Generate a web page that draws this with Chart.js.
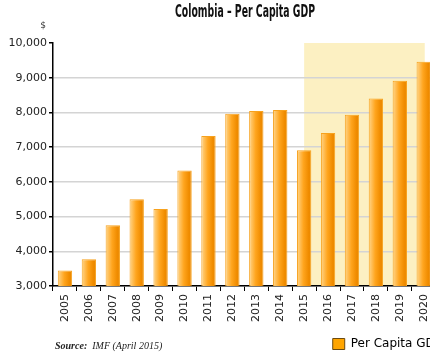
<!DOCTYPE html>
<html>
<head>
<meta charset="utf-8">
<script src="https://cdn.jsdelivr.net/npm/chart.js@4"></script>
<style>
  html, body { margin: 0; padding: 0; background: #fff; overflow: hidden; }
  #wrap { position: relative; width: 440px; height: 358px; }
</style>
</head>
<body>
<div id="wrap"><canvas id="myChart"></canvas></div>
<script>
// data
const years = ["2005", "2006", "2007", "2008", "2009", "2010", "2011", "2012",
               "2013", "2014", "2015", "2016", "2017", "2018", "2019", "2020"];
const gdpPerCapita = [3450, 3770, 4750, 5500, 5220, 6330, 7320, 7960,
                      8040, 8070, 6910, 7410, 7930, 8400, 8910, 9460];
const yTicks = [3000, 4000, 5000, 6000, 7000, 8000, 9000, 10000];
const forecastFrom = "2015";
const forecastTo = "2020";

// bar fill: light on the left, darker orange on the right
function barFill(context) {
  const chart = context.chart;
  const x = chart.scales.x;
  if (!chart.chartArea || !x || context.dataIndex === undefined) return "#FFA500";
  const center = x.getPixelForValue(context.dataIndex);
  const half = (x.width / years.length) * 0.6 / 2;
  const g = chart.ctx.createLinearGradient(center - half, 0, center + half, 0);
  g.addColorStop(0, "#FFD68C");
  g.addColorStop(0.45, "#FFA51E");
  g.addColorStop(0.8, "#F08C00");
  g.addColorStop(1, "#E98700");
  return g;
}

// pale band behind the forecast years
const forecastBand = {
  id: "forecastBand",
  afterLayout(chart) {
    // nudge the legend a bit, like the original
    if (chart.legend) {
      chart.legend.left += 10; chart.legend.right += 10;
      chart.legend.top += 3; chart.legend.bottom += 3;
    }
  },
  beforeDraw(chart) {
    const { ctx, chartArea, scales } = chart;
    const x1 = scales.x.getPixelForValue(years.indexOf(forecastFrom));
    const x2 = scales.x.getPixelForValue(years.indexOf(forecastTo)) + 1;
    const top = scales.y.getPixelForValue(10000);
    ctx.save();
    ctx.fillStyle = "#FCF0C2";
    ctx.fillRect(x1, top, x2 - x1, chartArea.bottom - top);
    ctx.restore();
  }
};

// title, unit and source line
const extraText = {
  id: "extraText",
  afterDraw(chart) {
    const { ctx } = chart;
    ctx.save();
    ctx.fillStyle = "#111";
    ctx.textAlign = "center";
    ctx.textBaseline = "middle";
    ctx.font = "bold 18px 'DejaVu Sans Condensed', sans-serif";
    const title = "Colombia \u2013 Per Capita GDP";
    const tw = ctx.measureText(title).width;
    ctx.save();
    ctx.translate(245, 12);
    ctx.scale(140 / tw, 1);
    ctx.fillText(title, 0, 0);
    ctx.restore();

    ctx.font = "9px 'DejaVu Sans', sans-serif";
    ctx.fillStyle = "#333";
    ctx.fillText("$", 43, 26);

    ctx.textAlign = "left";
    ctx.font = "bold italic 10px 'Liberation Serif', serif";
    ctx.fillStyle = "#222";
    ctx.fillText("Source:", 55, 346);
    const w = ctx.measureText("Source:  ").width;
    ctx.font = "italic 10px 'Liberation Serif', serif";
    ctx.fillText("IMF (April 2015)", 55 + w, 346);
    ctx.restore();
  }
};

new Chart("myChart", {
  type: "bar",
  data: {
    labels: years,
    datasets: [{
      label: "Per Capita GDP",
      data: gdpPerCapita,
      backgroundColor: barFill,
      borderColor: "#F7A21E",
      borderWidth: 1,
      borderSkipped: "bottom",
      categoryPercentage: 1,
      barPercentage: 0.6
    }]
  },
  options: {
    responsive: true,
    maintainAspectRatio: false,
    animation: false,
    layout: { padding: { top: 43, right: 2, left: 0, bottom: 1 } },
    scales: {
      x: {
        grid: { offset: true, drawOnChartArea: false, tickLength: 5, tickColor: "#000" },
        border: { color: "#000", width: 1.5 },
        ticks: {
          minRotation: 90, maxRotation: 90, padding: 3,
          color: "#222", font: { family: "'DejaVu Sans', sans-serif", size: 11 }
        },
        afterFit(scale) { scale.height = 43; }
      },
      y: {
        min: 3000, max: 10000,
        afterBuildTicks(scale) { scale.ticks = yTicks.map(v => ({ value: v })); },
        grid: {
          color: ctx => ctx.tick && ctx.tick.value === 10000 ? "rgba(0,0,0,0)" : "#D4D4D4",
          lineWidth: 1.5,
          tickLength: 4,
          tickColor: "#000"
        },
        border: { color: "#000", width: 1.5 },
        ticks: {
          padding: 2, color: "#222",
          font: { family: "'DejaVu Sans', sans-serif", size: 11 },
          callback: v => v.toLocaleString("en-US")
        },
        afterFit(scale) { scale.width = 53; }
      }
    },
    plugins: {
      legend: {
        position: "bottom",
        align: "end",
        labels: {
          boxWidth: 12, boxHeight: 11, padding: 6, color: "#222",
          font: { family: "'DejaVu Sans', sans-serif", size: 12 },
          generateLabels: () => [{
            text: "Per Capita GDP", fillStyle: "#FFA500",
            strokeStyle: "#6B4A10", lineWidth: 1, datasetIndex: 0
          }]
        }
      },
      title: { display: false },
      tooltip: { enabled: false }
    }
  },
  plugins: [forecastBand, extraText]
});
</script>
</body>
</html>
